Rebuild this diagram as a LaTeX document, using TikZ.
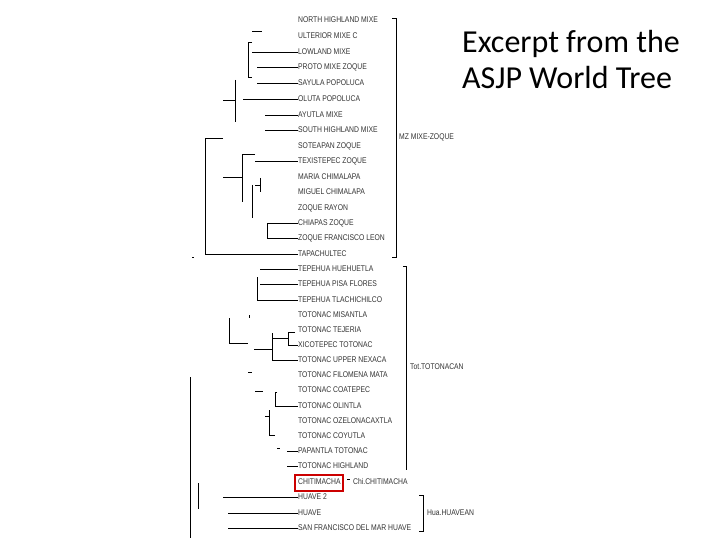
\documentclass[tikz,border=0pt]{standalone}
\usepackage{fontspec}
\newfontfamily\labfont[FakeStretch=0.82]{Liberation Sans}
\newfontfamily\ttlfont{Carlito}
\begin{document}
\begin{tikzpicture}[x=1pt,y=-1pt,
  lbl/.style={anchor=west,inner sep=0pt,text=black!80,font=\labfont\fontsize{8.3}{9}\selectfont},
  ttl/.style={anchor=base west,inner sep=0pt,text=black,font=\ttlfont\fontsize{32}{36}\selectfont},
  br/.style={line width=0.9pt,black},
  redbox/.style={draw=red!80!black,line width=2pt}]
\useasboundingbox[fill=white] (0,0) rectangle (720,540);
% title
\node[ttl] (t1) at (462,53) {Excerpt from the};
\node[ttl] (t2) at (462,89) {ASJP World Tree};
% leaf labels
\foreach \n/\y/\t in {
 1/20/NORTH HIGHLAND MIXE, 2/36/ULTERIOR MIXE C, 3/52/LOWLAND MIXE,
 4/67/PROTO MIXE ZOQUE, 5/83/SAYULA POPOLUCA, 6/99/OLUTA POPOLUCA,
 7/115/AYUTLA MIXE, 8/130/SOUTH HIGHLAND MIXE, 9/146/SOTEAPAN ZOQUE,
 10/161/TEXISTEPEC ZOQUE, 11/177/MARIA CHIMALAPA, 12/192/MIGUEL CHIMALAPA,
 13/208/ZOQUE RAYON, 14/223/CHIAPAS ZOQUE, 15/238/ZOQUE FRANCISCO LEON,
 16/254/TAPACHULTEC, 17/269/TEPEHUA HUEHUETLA, 18/284/TEPEHUA PISA FLORES,
 19/300/TEPEHUA TLACHICHILCO, 20/315/TOTONAC MISANTLA, 21/330/TOTONAC TEJERIA,
 22/345/XICOTEPEC TOTONAC, 23/360/TOTONAC UPPER NEXACA, 24/375/TOTONAC FILOMENA MATA,
 25/390/TOTONAC COATEPEC, 26/406/TOTONAC OLINTLA, 27/421/TOTONAC OZELONACAXTLA,
 28/436/TOTONAC COYUTLA, 29/451/PAPANTLA TOTONAC, 30/466/TOTONAC HIGHLAND,
 31/482/CHITIMACHA, 32/497/HUAVE 2, 33/513/HUAVE, 34/528/SAN FRANCISCO DEL MAR HUAVE}
 {\node[lbl] (r\n) at (298,\y) {\t};}
% group labels
\node[lbl] (mz) at (399,137) {MZ MIXE-ZOQUE};
\node[lbl] (tot) at (410,367) {Tot.TOTONACAN};
\node[lbl] (chi) at (353,482) {Chi.CHITIMACHA};
\node[lbl] (hua) at (427,513) {Hua.HUAVEAN};
% red box
\node[redbox,inner sep=0pt,minimum width=48pt,minimum height=16pt,anchor=north west] (rb) at (294,474) {};
% tree lines (top)
\draw[br] (252,31) -- (262,31);
\draw[br] (252,42) -- (248,42) -- (248,77) -- (252,77);
\draw[br] (252,52) -- (r3.west);
\draw[br] (257,67) -- (r4.west);
\draw[br] (257,83) -- (r5.west);
\draw[br] (235,80) -- (235,122);
\draw[br] (223,100) -- (235,100);
\draw[br] (243,99) -- (r6.west);
\draw[br] (265,115) -- (r7.west);
\draw[br] (265,130) -- (r8.west);
\draw[br] (223,138) -- (205,138) -- (205,254) -- (r16.west);
\draw[br] (255,154) -- (242,154) -- (242,202);
\draw[br] (255,161) -- (r10.west);
\draw[br] (223,177) -- (242,177);
\draw[br] (255,185) -- (260,185);
\draw[br] (260,178) -- (260,192);
\draw[br] (252,185) -- (252,218);
\draw[br] (r14.west) -- (267,223) -- (267,238) -- (r15.west);
% middle
\draw[br] (192,257) -- (194,257);
\draw[br] (260,269) -- (r17.west);
\draw[br] (257,277) -- (257,300) -- (r19.west);
\draw[br] (260,284) -- (r18.west);
\draw[br] (249,315) -- (249,318);
\draw[br] (229,318) -- (229,343) -- (248,343);
\draw[br] (295,332) -- (288,332) -- (288,345) -- (r22.west);
\draw[br] (272,338) -- (288,338);
\draw[br] (254,349) -- (272,349);
\draw[br] (272,333) -- (272,360) -- (r23.west);
\draw[br] (248,372) -- (252,372);
\draw[br] (190,377) -- (190,538);
\draw[br] (255,391) -- (263,391);
\draw[br] (277,392) -- (275,392) -- (275,406) -- (r26.west);
\draw[br] (265,416) -- (269,416);
\draw[br] (269,410) -- (269,435) -- (275,435);
\draw[br] (277,448) -- (280,448);
\draw[br] (287,451) -- (r29.west);
\draw[br] (287,466) -- (r30.west);
\draw[br] (347,479) -- (350,479);
% bottom
\draw[br] (198,483) -- (198,509);
\draw[br] (223,497) -- (r32.west);
\draw[br] (228,513) -- (r33.west);
\draw[br] (228,528) -- (r34.west);
% group brackets
\draw[br] (392,18) -- (396,18) -- (396,257) -- (392,257);
\draw[br] (403,266) -- (406,266) -- (406,470);
\draw[br] (419,495) -- (423,495) -- (423,531) -- (419,531);
\end{tikzpicture}
\end{document}
